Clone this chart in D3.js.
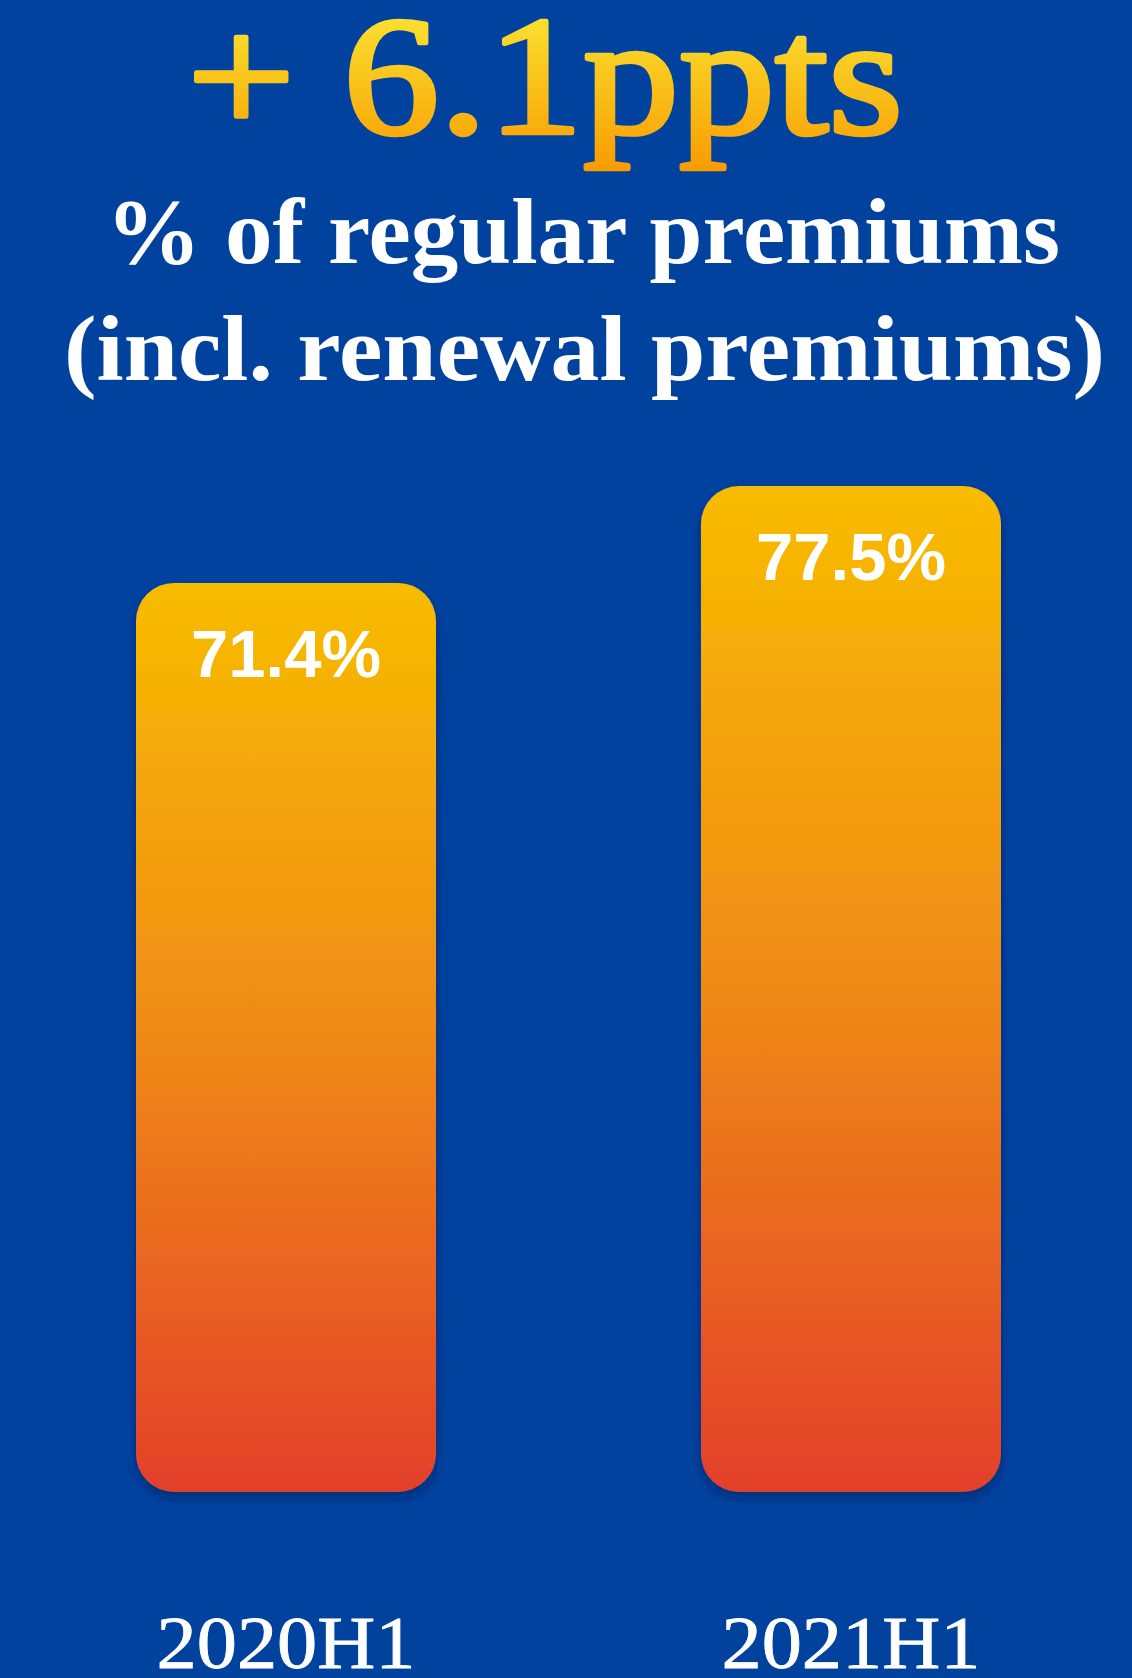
<!DOCTYPE html>
<html>
<head>
<meta charset="utf-8">
<script src="https://cdn.jsdelivr.net/npm/d3@7"></script>
<style>
  html, body { margin: 0; padding: 0; background: #00429e; }
  svg { display: block; }
</style>
</head>
<body>
<script>
// ---- data ----
const categories = ["2020H1", "2021H1"];
const values = [71.4, 77.5];
const valueLabels = ["71.4%", "77.5%"];
const headline = "+ 6.1ppts";
const subtitleLines = ["% of regular premiums", "(incl. renewal premiums)"];

const W = 1132, H = 1678;
const svg = d3.select("body").append("svg").attr("width", W).attr("height", H);

svg.append("rect").attr("width", W).attr("height", H).attr("fill", "#00429e");

const defs = svg.append("defs");
const barGrad = defs.append("linearGradient").attr("id", "barGrad")
  .attr("x1", 0).attr("y1", 0).attr("x2", 0).attr("y2", 1);
barGrad.append("stop").attr("offset", "0%").attr("stop-color", "#f8bc00");
barGrad.append("stop").attr("offset", "50%").attr("stop-color", "#ef8a17");
barGrad.append("stop").attr("offset", "100%").attr("stop-color", "#e3402a");

const titleGrad = defs.append("linearGradient").attr("id", "titleGrad")
  .attr("gradientUnits", "userSpaceOnUse")
  .attr("x1", 0).attr("y1", 15).attr("x2", 0).attr("y2", 170);
titleGrad.append("stop").attr("offset", "0%").attr("stop-color", "#fbe030");
titleGrad.append("stop").attr("offset", "100%").attr("stop-color", "#f89c00");

const shadow = defs.append("filter").attr("id", "shadow")
  .attr("x", "-10%").attr("y", "-10%").attr("width", "120%").attr("height", "120%");
shadow.append("feDropShadow").attr("dx", 0).attr("dy", 6).attr("stdDeviation", 5)
  .attr("flood-color", "#001a50").attr("flood-opacity", 0.45);

// ---- headline ----
svg.append("text")
  .attr("x", 187).attr("y", 133)
  .attr("font-family", "'Liberation Serif', 'Times New Roman', serif")
  .attr("font-size", 170)
  .attr("textLength", 716).attr("lengthAdjust", "spacingAndGlyphs")
  .attr("fill", "url(#titleGrad)")
  .attr("stroke", "url(#titleGrad)").attr("stroke-width", 4.5)
  .attr("stroke-linejoin", "round")
  .text(headline);

// ---- subtitle ----
const subY = [263, 380];
const subX = [[106, 954], [64, 1041]];
svg.selectAll("text.sub").data(subtitleLines).join("text")
  .attr("class", "sub")
  .attr("x", (d, i) => subX[i][0])
  .attr("y", (d, i) => subY[i])
  .attr("textLength", (d, i) => subX[i][1])
  .attr("lengthAdjust", "spacingAndGlyphs")
  .attr("font-family", "'Liberation Serif', 'Times New Roman', serif")
  .attr("font-weight", "bold")
  .attr("font-size", 94)
  .attr("fill", "#ffffff")
  .text(d => d);

// ---- scales ----
const x = d3.scaleBand().domain(categories).range([136, 1001])
  .paddingInner(0.469).paddingOuter(0);
const y = d3.scaleLinear().domain([14.2, 77.5]).range([1492, 486]);

const data = categories.map((c, i) => ({ c, v: values[i], label: valueLabels[i] }));

// ---- bars ----
svg.selectAll("rect.bar").data(data).join("rect")
  .attr("class", "bar")
  .attr("x", d => x(d.c))
  .attr("y", d => y(d.v))
  .attr("width", x.bandwidth())
  .attr("height", d => y.range()[0] - y(d.v))
  .attr("rx", 38).attr("ry", 38)
  .attr("fill", "url(#barGrad)")
  .attr("filter", "url(#shadow)");

// ---- value labels ----
svg.selectAll("text.val").data(data).join("text")
  .attr("class", "val")
  .attr("x", d => x(d.c) + x.bandwidth() / 2)
  .attr("y", d => y(d.v) + 94)
  .attr("text-anchor", "middle")
  .attr("font-family", "'Liberation Sans', Arial, Helvetica, sans-serif")
  .attr("font-weight", "bold")
  .attr("font-size", 67)
  .attr("fill", "#ffffff")
  .text(d => d.label);

// ---- category axis labels ----
const xAxis = d3.axisBottom(x).tickSize(0).tickPadding(0);
const axisG = svg.append("g").attr("transform", "translate(0,1612)").call(xAxis);
axisG.select(".domain").remove();
axisG.selectAll("text")
  .attr("font-family", "'Liberation Serif', 'Times New Roman', serif")
  .attr("font-size", 74)
  .attr("fill", "#ffffff")
  .attr("stroke", "#ffffff").attr("stroke-width", 0.8)
  .attr("textLength", 259).attr("lengthAdjust", "spacingAndGlyphs")
  .attr("dy", 0)
  .attr("y", 56);
</script>
</body>
</html>
